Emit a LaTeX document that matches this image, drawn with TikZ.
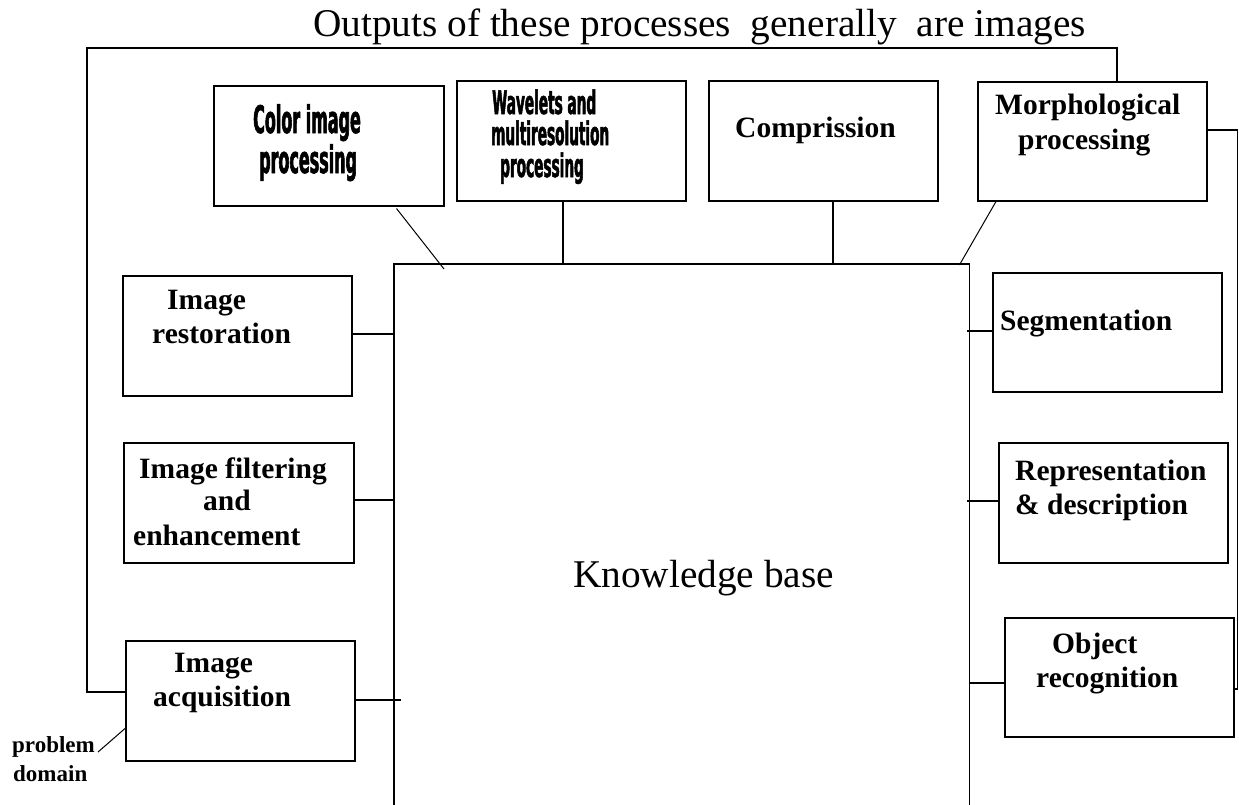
\documentclass[tikz,border=0pt]{standalone}
\usepackage{fontspec}
\setmainfont{Liberation Serif}
\newfontfamily\cond[FakeStretch=0.42,FakeBold=1.5]{DejaVu Sans}
\usetikzlibrary{calc}
\begin{document}
\begin{tikzpicture}[x=1pt,y=-1pt,
  box/.style={draw, line width=1.5pt, inner sep=0pt, anchor=north west},
  lbl/.style={anchor=base west, inner sep=0pt, font=\fontsize{29.5}{30}\selectfont\bfseries},
  clbl/.style={anchor=base west, inner sep=0pt, font=\cond\fontsize{38}{38}\selectfont\bfseries},
  wlbl/.style={anchor=base west, inner sep=0pt, font=\cond\fontsize{32.5}{32}\selectfont\bfseries},
  big/.style={anchor=base west, inner sep=0pt, font=\fontsize{39.3}{40}\selectfont},
  small/.style={anchor=base west, inner sep=0pt, font=\fontsize{23}{24}\selectfont\bfseries},
  conn/.style={line width=1.5pt},
  thinline/.style={line width=1pt}]
\useasboundingbox (0,0) rectangle (1239,804);

% title
\node[big] (title) at (313,36) {Outputs of these processes~ generally~ are images};

% boxes
\node[box, minimum width=230pt, minimum height=120pt] (color) at (213,85) {};
\node[box, minimum width=229pt, minimum height=120pt] (wave) at (456,80) {};
\node[box, minimum width=229pt, minimum height=120pt] (comp) at (708,80) {};
\node[box, minimum width=229pt, minimum height=119pt] (morph) at (977,81) {};
\node[box, minimum width=229pt, minimum height=120pt] (rest) at (122,275) {};
\node[box, minimum width=230pt, minimum height=120pt] (filt) at (123,442) {};
\node[box, minimum width=229pt, minimum height=120pt] (acq) at (125,640) {};
\node[box, minimum width=229pt, minimum height=119pt] (seg) at (992,272) {};
\node[box, minimum width=229pt, minimum height=120pt] (repr) at (998,442) {};
\node[box, minimum width=229pt, minimum height=119pt] (obj) at (1004,617) {};
\node[inner sep=0pt, minimum width=575pt, minimum height=545pt, anchor=north west] (kb) at (394,264) {};
\draw[conn] (kb.south west) -- (kb.north west) -- (kb.north east) -- (kb.south east);

% labels
\node[clbl] (colorA) at (253,133) {Color image};
\node[clbl] (colorB) at (259,173) {processing};
\node[wlbl] (waveA) at (492,114) {Wavelets and};
\node[wlbl] (waveB) at (491,145) {multiresolution};
\node[wlbl] (waveC) at (500,177) {processing};
\node[lbl] (compA) at (735,137) {Comprission};
\node[lbl] (morphA) at (995,114) {Morphological};
\node[lbl] (morphB) at (1018,149) {processing};
\node[lbl] (restA) at (167,309) {Image};
\node[lbl] (restB) at (152,343) {restoration};
\node[lbl] (filtA) at (139,478) {Image filtering};
\node[lbl] (filtB) at (203,510) {and};
\node[lbl] (filtC) at (133,545) {enhancement};
\node[lbl] (acqA) at (174,672) {Image};
\node[lbl] (acqB) at (153,706) {acquisition};
\node[lbl] (segA) at (1000,330) {Segmentation};
\node[lbl] (reprA) at (1015,480) {Representation};
\node[lbl] (reprB) at (1015,514) {\& description};
\node[lbl] (objA) at (1052,653) {Object};
\node[lbl] (objB) at (1036,687) {recognition};
\node[big] (kbl) at (573,587) {Knowledge base};
\node[small] (pdA) at (12,752) {problem};
\node[small] (pdB) at (13,781) {domain};

% connectors to knowledge base
\draw[thinline] ($(color.south east)+(-48,2)$) -- ($(kb.north west)+(50,5)$);
\draw[conn] ($(wave.south west)+(107,0)$) coordinate (w1) -- (w1 |- kb.north);
\draw[conn] ($(comp.south west)+(125,0)$) coordinate (c1) -- (c1 |- kb.north);
\draw[thinline] ($(morph.south west)+(19,0)$) -- ($(kb.north east)+(-10,1)$);
\draw[conn] ([yshift=2pt]rest.east) coordinate (r1) -- (r1 -| kb.west);
\draw[conn] ([yshift=3pt]filt.east) coordinate (f1) -- (f1 -| kb.west);
\draw[conn] ([yshift=1pt]acq.east) coordinate (a1) -- ($(a1 -| kb.west)+(7,0)$);
\draw[conn] ([yshift=1.5pt]seg.west) coordinate (s1) -- ($(s1 -| kb.east)+(-2,0)$);
\draw[conn] ([yshift=2pt]repr.west) coordinate (p1) -- ($(p1 -| kb.east)+(-2,0)$);
\draw[conn] ([yshift=-5.5pt]obj.west) coordinate (o1) -- (o1 -| kb.east);

% outer feedback frame
\coordinate (ftl) at (87,48);
\coordinate (ftr) at (1117,48);
\draw[conn] ($(acq.west)+(0,-9)$) coordinate (fa) -- (fa -| ftl) -- (ftl) -- (ftr) -- (ftr |- morph.north);
\draw[conn] ($(morph.east)+(0,-11.5)$) -| ($(obj.east)+(3,11.5)$) -- ($(obj.east)+(0,11.5)$);

% problem domain
\draw[thinline] ($(pdA.base east)+(3,0)$) -- ($(acq.south west)+(0,-33)$);
\end{tikzpicture}
\end{document}
